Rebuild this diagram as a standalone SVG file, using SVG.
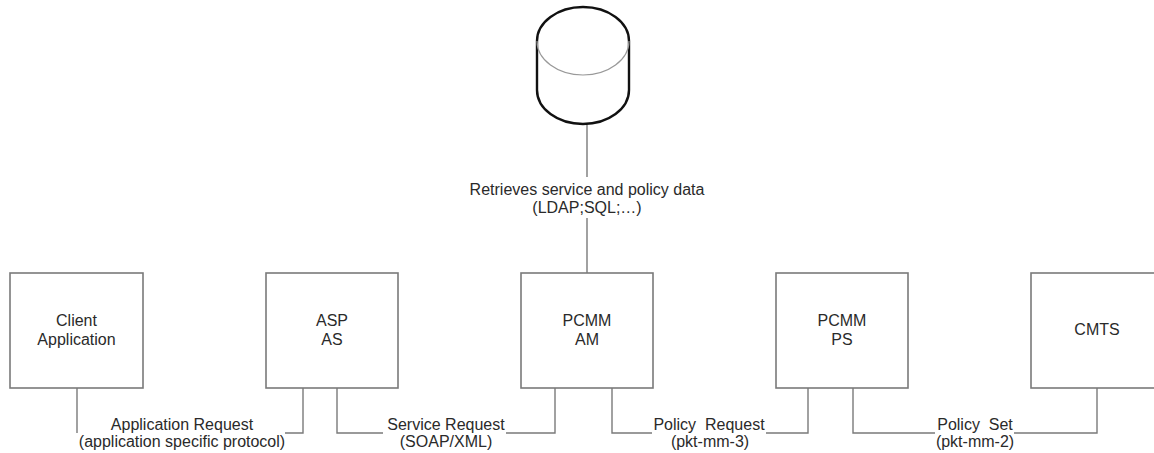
<svg xmlns="http://www.w3.org/2000/svg" width="1154" height="453" viewBox="0 0 1154 453">
<style>
.bg{fill:#ffffff}
.box{fill:#ffffff;stroke:#7a7a7a;stroke-width:1.6}
.ln{fill:none;stroke:#7a7a7a;stroke-width:1.4}
.db{fill:#ffffff;stroke:#111111;stroke-width:2.4}
.dbin{fill:none;stroke:#999999;stroke-width:1.2}
text{font-family:"Liberation Sans",Arial,sans-serif;font-size:16px;fill:#2a2a2a;text-anchor:middle;white-space:pre}
</style>
<rect class="bg" x="0" y="0" width="1154" height="453"/>
<g id="connectors">
<path class="ln" d="M77,388 V433"/>
<path class="ln" d="M285,433 H303 V388"/>
<path class="ln" d="M337,388 V433 H383"/>
<path class="ln" d="M506,433 H555 V388"/>
<path class="ln" d="M612,388 V433 H652"/>
<path class="ln" d="M766,433 H808 V388"/>
<path class="ln" d="M853,388 V433 H935"/>
<path class="ln" d="M1014,433 H1097 V388"/>
<path class="ln" d="M587,124 V177"/>
<path class="ln" d="M587,218 V273"/>
<text x="182" y="430">Application Request</text>
<text x="182" y="447">(application specific protocol)</text>
<text x="446" y="430">Service Request</text>
<text x="446" y="447">(SOAP/XML)</text>
<text x="709" y="430">Policy  Request</text>
<text x="710" y="447">(pkt-mm-3)</text>
<text x="975" y="430">Policy  Set</text>
<text x="975" y="447">(pkt-mm-2)</text>
<text x="587" y="195">Retrieves service and policy data</text>
<text x="587" y="213">(LDAP;SQL;…)</text>
</g>
<g id="database">
<path class="db" d="M537,41 A46,34 0 0 1 629,41 V90 A46,34 0 0 1 537,90 Z"/>
<path class="dbin" d="M537,41 A46,34 0 0 0 629,41"/>
</g>
<g id="client">
<rect class="box" x="10" y="273" width="133" height="115"/>
<text x="76.5" y="326">Client</text>
<text x="76.5" y="345">Application</text>
</g>
<g id="asp">
<rect class="box" x="266" y="273" width="132" height="115"/>
<text x="332" y="326">ASP</text>
<text x="332" y="345">AS</text>
</g>
<g id="pcmm-am">
<rect class="box" x="521" y="273" width="132" height="115"/>
<text x="587" y="326">PCMM</text>
<text x="587" y="345">AM</text>
</g>
<g id="pcmm-ps">
<rect class="box" x="776" y="273" width="132" height="115"/>
<text x="842" y="326">PCMM</text>
<text x="842" y="345">PS</text>
</g>
<g id="cmts">
<rect class="box" x="1031" y="273" width="132" height="115"/>
<text x="1097" y="335">CMTS</text>
</g>
</svg>
